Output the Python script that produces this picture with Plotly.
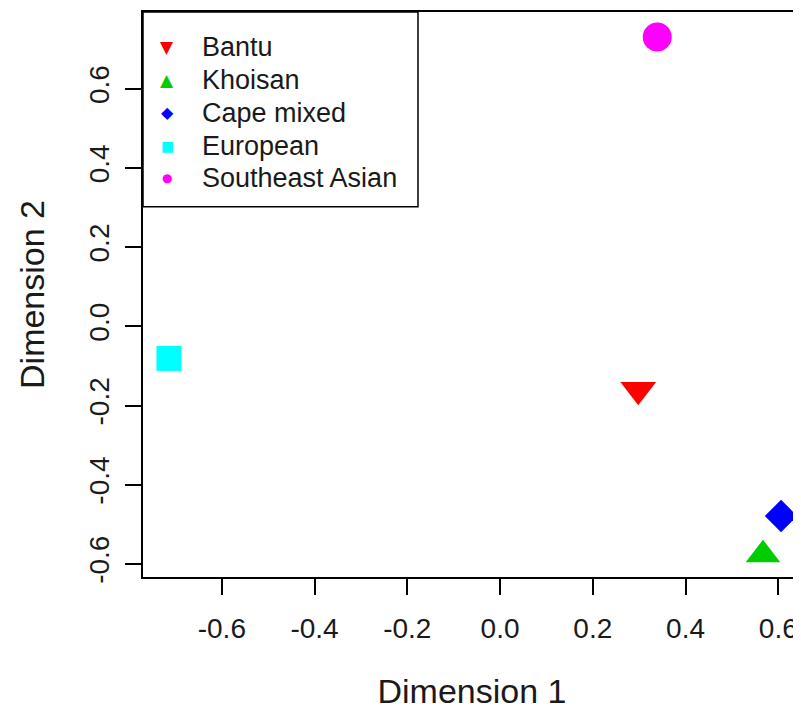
import plotly.graph_objects as go

groups = ["Bantu", "Khoisan", "Cape mixed", "European", "Southeast Asian"]
dim1 = [0.298, 0.567, 0.606, -0.714, 0.339]
dim2 = [-0.160, -0.577, -0.479, -0.081, 0.731]
colors = ["#ff0000", "#00cd00", "#0000ff", "#00ffff", "#ff00ff"]
symbols = ["triangle-down", "triangle-up", "diamond", "square", "circle"]
legend_glyphs = ["\u25BC", "\u25B2", "\u25C6", "\u25A0", "\u25CF"]
legend_glyph_sizes = [17, 17, 16, 14, 12]
sizes = [31, 30, 25, 25, 29]
xticks = [-0.6, -0.4, -0.2, 0.0, 0.2, 0.4, 0.6]
yticks = [-0.6, -0.4, -0.2, 0.0, 0.2, 0.4, 0.6]

FONT = "Liberation Sans, Arial, sans-serif"

# plot-area geometry in page pixels (used only to place the hand-drawn legend)
PL, PR, PT, PB = 143.0, 801.0, 12.0, 578.0
def px_x(p):
    return (p - PL) / (PR - PL)
def px_y(p):
    return (PB - p) / (PB - PT)

fig = go.Figure()
for g, x, y, c, s, sz in zip(groups, dim1, dim2, colors, symbols, sizes):
    fig.add_trace(go.Scatter(
        x=[x], y=[y], mode="markers", name=g,
        marker=dict(color=c, symbol=s, size=sz, line=dict(width=0)),
        showlegend=False,
    ))

# legend box (R-style)
shapes = [dict(type="rect", xref="paper", yref="paper",
               x0=0, x1=px_x(418), y0=px_y(207), y1=1,
               line=dict(color="black", width=1.5), fillcolor="white",
               layer="above")]
annotations = []
row_y = [47, 80, 113, 146, 178]
for g, c, gl, gs, ry in zip(groups, colors, legend_glyphs, legend_glyph_sizes, row_y):
    annotations.append(dict(
        xref="paper", yref="paper", x=px_x(167), y=px_y(ry),
        text=gl, showarrow=False, xanchor="center", yanchor="middle",
        font=dict(family="DejaVu Sans", size=gs, color=c),
    ))
    annotations.append(dict(
        xref="paper", yref="paper", x=px_x(200), y=px_y(ry),
        text=g, showarrow=False, xanchor="left", yanchor="middle",
        font=dict(family=FONT, size=27, color="#1a1a1a"),
    ))

fig.update_layout(
    width=793, height=702,
    margin=dict(l=135, r=0, t=4, b=124),
    paper_bgcolor="white", plot_bgcolor="white",
    font=dict(family=FONT, size=28, color="#1a1a1a"),
    showlegend=False,
    shapes=shapes,
    annotations=annotations,
    xaxis=dict(
        range=[-0.770, 0.649], tickvals=xticks,
        ticktext=["%.1f" % v for v in xticks],
        showgrid=False, zeroline=False,
        showline=True, linecolor="black", linewidth=1.5, mirror=True,
        ticks="outside", ticklen=16, tickwidth=1.5, tickcolor="black",
        ticklabelstandoff=10,
        title=dict(text="Dimension 1", standoff=42),
    ),
    yaxis=dict(
        range=[-0.633, 0.794], tickvals=yticks,
        ticktext=["%.1f" % v for v in yticks],
        tickangle=-90,
        showgrid=False, zeroline=False,
        showline=True, linecolor="black", linewidth=1.5, mirror=False,
        ticks="outside", ticklen=16, tickwidth=1.5, tickcolor="black",
        ticklabelstandoff=5,
        title=dict(text="Dimension 2", standoff=29),
    ),
)

fig.write_html("out.html")
